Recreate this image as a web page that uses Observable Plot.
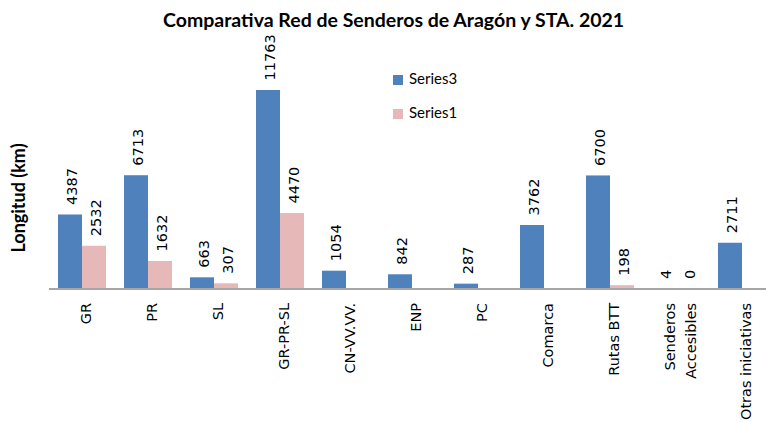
<!DOCTYPE html>
<html>
<head>
<meta charset="utf-8">
<script src="https://cdn.jsdelivr.net/npm/d3@7"></script>
<script src="https://cdn.jsdelivr.net/npm/@observablehq/plot@0.6"></script>
<style>
  body { margin: 0; background: #fff; }
  #wrap { position: relative; width: 766px; height: 422px; overflow: hidden; background: #fff; }
  #title { position: absolute; top: 8px; left: 163px; white-space: nowrap;
           font: bold 19.5px Lato, "Open Sans", sans-serif; color: #000; }
  #ylab { position: absolute; left: 18px; top: 198px; transform: translate(-50%, -50%) rotate(-90deg);
          white-space: nowrap; font: bold 18px Lato, sans-serif; color: #000; }
  .leg { position: absolute; left: 393px; font: 15px Lato, sans-serif; color: #000; line-height: 16px; }
  .leg span { display: inline-block; width: 10px; height: 10px; margin-right: 6px; vertical-align: -1px; }
</style>
</head>
<body>
<div id="wrap">
  <div id="chart"></div>
  <div id="title">Comparativa Red de Senderos de Aragón y STA. 2021</div>
  <div id="ylab">Longitud (km)</div>
  <div class="leg" id="leg3" style="top:70px"><span style="background:#4F81BD"></span>Series3</div>
  <div class="leg" id="leg1" style="top:104px"><span style="background:#E6B9B8"></span>Series1</div>
</div>
<script>
const categories = ["GR", "PR", "SL", "GR-PR-SL", "CN-VV.VV.", "ENP", "PC", "Comarca", "Rutas BTT", "Senderos\nAccesibles", "Otras iniciativas"];
const seriesNames = ["Series3", "Series1"];
const series3 = [4387, 6713, 663, 11763, 1054, 842, 287, 3762, 6700, 4, 2711];
const series1 = [2532, 1632, 307, 4470, null, null, null, null, 198, 0, null];
const colors = ["#4F81BD", "#E6B9B8"];

const rows = categories.flatMap((c, i) => [
  {cat: c, series: "Series3", value: series3[i]},
  {cat: c, series: "Series1", value: series1[i]}
]);
const valued = rows.filter(d => d.value != null);

const FONT = "DejaVu Sans";

const chart = Plot.plot({
  width: 766,
  height: 422,
  marginLeft: 45,
  marginRight: 0,
  marginTop: 90,
  marginBottom: 133.5,
  style: {fontFamily: FONT, fontSize: "14px", background: "transparent", color: "#000"},
  fx: {domain: categories, padding: 0, range: [45, 778], label: null},
  x: {domain: seriesNames, paddingInner: 0, paddingOuter: 0.37, axis: null},
  y: {domain: [0, 11763], axis: null},
  color: {domain: seriesNames, range: colors},
  marks: [
    Plot.barY(valued, {fx: "cat", x: "series", y: "value", fill: "series"}),
    Plot.ruleY([0], {stroke: "#A6A6A6", strokeWidth: 2}),
    Plot.text(valued, {fx: "cat", x: "series", y: "value", text: d => String(d.value),
      rotate: -90, textAnchor: "start", dy: -10, dx: 2, fontSize: 14.5, fontFamily: FONT, fill: "#000"}),
    Plot.axisFx({anchor: "bottom", tickRotate: -90, tickSize: 0, tickPadding: 14, dx: 2,
      fontSize: 14.5, fontFamily: FONT, label: null, lineHeight: 1.5, fill: "#000"})
  ]
});
document.getElementById("chart").appendChild(chart);
</script>
</body>
</html>
